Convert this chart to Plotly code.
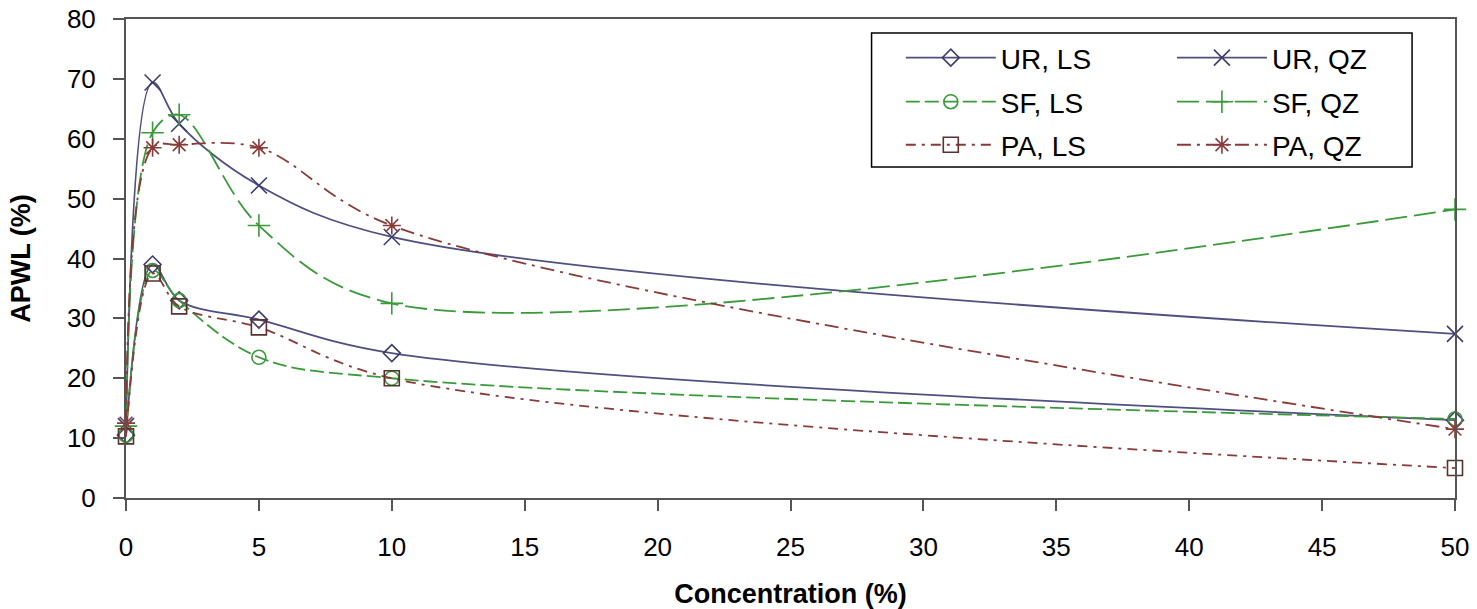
import plotly.graph_objects as go

conc = [0, 1, 2, 5, 10, 50]
ur_ls = [10.5, 39.0, 33.0, 29.8, 24.2, 13.0]
ur_qz = [12.0, 69.4, 62.5, 52.2, 43.6, 27.4]
sf_ls = [10.5, 38.0, 33.0, 23.5, 20.0, 13.2]
sf_qz = [12.0, 61.0, 64.0, 45.5, 32.5, 48.2]
pa_ls = [10.3, 37.5, 32.0, 28.5, 20.0, 5.0]
pa_qz = [12.5, 58.5, 59.0, 58.5, 45.5, 11.5]

names = ["UR, LS", "UR, QZ", "SF, LS", "SF, QZ", "PA, LS", "PA, QZ"]
series = [ur_ls, ur_qz, sf_ls, sf_qz, pa_ls, pa_qz]

UR = "#4f4f80"
SF = "#3a9a3a"
PA = "#8b3a3a"
styles = [
    dict(color=UR, dash="solid", symbol="diamond-open", mcolor="#3c3c6e", size=13),
    dict(color=UR, dash="solid", symbol="x-thin-open", mcolor="#3c3c6e", size=16),
    dict(color=SF, dash="14px,5px", symbol="circle-open", mcolor=SF, size=14),
    dict(color=SF, dash="22px,7px", symbol="cross-thin-open", mcolor=SF, size=16),
    dict(color=PA, dash="10px,6px,3px,6px", symbol="square-open", mcolor="#5a3030", size=15),
    dict(color=PA, dash="14px,6px,3px,6px", symbol="asterisk-open", mcolor=PA, size=15),
]

leg_ids = ["legend", "legend2", "legend3", "legend4", "legend5", "legend6"]

fig = go.Figure()
for i, (n, ys, s) in enumerate(zip(names, series, styles)):
    fig.add_trace(go.Scatter(
        x=conc, y=ys, name=n, mode="lines+markers",
        line=dict(color=s["color"], width=1.8, dash=s["dash"], shape="spline", smoothing=1.0),
        marker=dict(symbol=s["symbol"], size=s["size"], color=s["mcolor"],
                    line=dict(color=s["mcolor"], width=1.6)),
        cliponaxis=False,
        legend=leg_ids[i],
    ))

axis_common = dict(showgrid=False, zeroline=False, showline=True, linecolor="#555555",
                   linewidth=2, mirror=True, ticks="outside", ticklen=11, tickwidth=2,
                   tickcolor="#555555", tickfont=dict(size=26, color="black"),
                   automargin=False)

leg_common = dict(xanchor="left", yanchor="top", borderwidth=0, bgcolor="rgba(0,0,0,0)",
                  font=dict(size=28, color="black"), itemwidth=90,
                  orientation="v")

col_x = [0.583, 0.787]
row_y = [0.9708, 0.8789, 0.789]
legends = {}
for i, lid in enumerate(leg_ids):
    legends[lid] = dict(x=col_x[i % 2], y=row_y[i // 2], **leg_common)

fig.update_layout(
    width=1477, height=609,
    margin=dict(l=126, r=22, t=19, b=111),
    paper_bgcolor="white", plot_bgcolor="white",
    font=dict(family="Liberation Sans, Arial, sans-serif", color="black"),
    xaxis=dict(range=[0, 50], dtick=5, tick0=0, **axis_common, ticklabelstandoff=14,
               title=dict(text="<b>Concentration (%)</b>", font=dict(size=27), standoff=40)),
    yaxis=dict(range=[0, 80], dtick=10, tick0=0, **axis_common, ticklabelstandoff=12,
               title=dict(text="<b>APWL (%)</b>", font=dict(size=27), standoff=28)),
    shapes=[dict(type="rect", xref="paper", yref="paper", x0=0.561, x1=0.9677,
                 y0=0.691, y1=0.9708, line=dict(color="black", width=1.5),
                 fillcolor="white", layer="below")],
    showlegend=True,
    **legends,
)

fig.write_html("out.html")
